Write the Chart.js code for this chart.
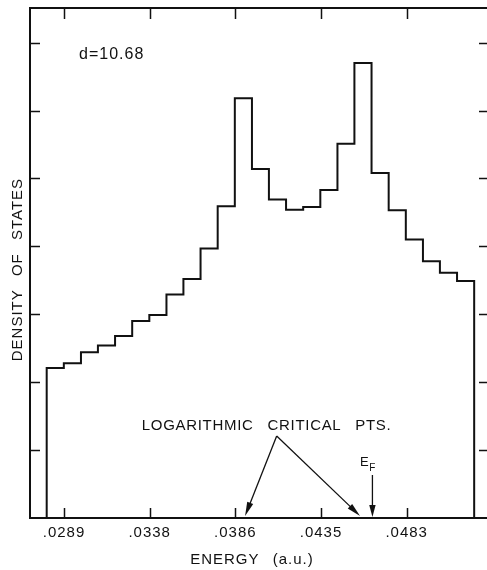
<!DOCTYPE html>
<html>
<head>
<meta charset="utf-8">
<script src="https://cdn.jsdelivr.net/npm/chart.js@4"></script>
<style>
  html, body { margin: 0; padding: 0; background: #fff; }
</style>
</head>
<body>
<canvas id="dos" width="487" height="570"></canvas>
<script>
// histogram bin edges along the energy axis (a.u.)
const binEdges = [0.02792, 0.02889, 0.02986, 0.03082, 0.03179, 0.03276, 0.03373, 0.03470, 0.03566,
  0.03663, 0.03760, 0.03857, 0.03954, 0.04050, 0.04147, 0.04244, 0.04341, 0.04438, 0.04534,
  0.04631, 0.04728, 0.04825, 0.04922, 0.05018, 0.05115, 0.05212]
// density of states in each bin (units = one y tick)
const dosValues = [2.21, 2.28, 2.44, 2.54, 2.68, 2.90, 2.99, 3.29, 3.52, 3.97, 4.59, 6.18, 5.14,
  4.69, 4.54, 4.58, 4.83, 5.51, 6.70, 5.08, 4.53, 4.10, 3.78, 3.61, 3.49]
const xTickValues = [0.0289, 0.03375, 0.0386, 0.04345, 0.0483]
const xTickLabels = ['.0289', '.0338', '.0386', '.0435', '.0483']
const yTickValues = [1, 2, 3, 4, 5, 6, 7]
const criticalPts = [0.03915, 0.04566]
const fermiEnergy = 0.04636
const ink = '#111111'
const fontFamily = "'Liberation Sans', Arial, sans-serif"

Chart.defaults.font.family = fontFamily

const steps = [{ x: binEdges[0], y: 0 }]
dosValues.forEach((v, i) => steps.push({ x: binEdges[i], y: v }))
steps.push({ x: binEdges[dosValues.length], y: 0 })

function arrow(ctx, x0, y0, x1, y1, len, half) {
  const ang = Math.atan2(y1 - y0, x1 - x0)
  ctx.beginPath()
  ctx.moveTo(x0, y0)
  ctx.lineTo(x1 - Math.cos(ang) * len * 0.6, y1 - Math.sin(ang) * len * 0.6)
  ctx.stroke()
  ctx.beginPath()
  ctx.moveTo(x1, y1)
  ctx.lineTo(x1 - Math.cos(ang) * len - Math.sin(ang) * half, y1 - Math.sin(ang) * len + Math.cos(ang) * half)
  ctx.lineTo(x1 - Math.cos(ang) * len + Math.sin(ang) * half, y1 - Math.sin(ang) * len - Math.cos(ang) * half)
  ctx.closePath()
  ctx.fill()
}

const spacing = {
  id: 'spacing',
  beforeDraw(chart) {
    chart.ctx.letterSpacing = '1px'
    chart.ctx.wordSpacing = '8px'
  }
}

const frame = {
  id: 'frame',
  afterDraw(chart) {
    const { ctx, chartArea: a, scales: { x, y } } = chart
    ctx.save()
    ctx.strokeStyle = ink
    ctx.fillStyle = ink
    ctx.lineWidth = 2
    ctx.beginPath()
    ctx.moveTo(a.right, a.top)
    ctx.lineTo(a.left, a.top)
    ctx.lineTo(a.left, a.bottom)
    ctx.lineTo(a.right, a.bottom)
    ctx.stroke()

    // inward tick marks on all sides
    ctx.lineWidth = 1.5
    ctx.beginPath()
    xTickValues.forEach(v => {
      const px = Math.round(x.getPixelForValue(v)) + 0.5
      ctx.moveTo(px, a.bottom); ctx.lineTo(px, a.bottom - 10)
      ctx.moveTo(px, a.top); ctx.lineTo(px, a.top + 11)
    })
    yTickValues.forEach(v => {
      const py = Math.round(y.getPixelForValue(v)) + 0.5
      ctx.moveTo(a.left, py); ctx.lineTo(a.left + 10, py)
      ctx.moveTo(a.right, py); ctx.lineTo(a.right - 8, py)
    })
    ctx.stroke()

    // annotations
    ctx.textBaseline = 'middle'
    ctx.textAlign = 'left'
    ctx.letterSpacing = '1px'
    ctx.wordSpacing = '0px'
    ctx.font = '16px ' + fontFamily
    ctx.fillText('d=10.68', x.getPixelForValue(0.02975), y.getPixelForValue(6.82))

    ctx.font = '15px ' + fontFamily
    ctx.letterSpacing = '0.7px'
    ctx.wordSpacing = '9px'
    ctx.fillText('LOGARITHMIC CRITICAL PTS.', x.getPixelForValue(0.0333), y.getPixelForValue(1.355))

    ctx.lineWidth = 1.3
    const ax = x.getPixelForValue(0.04094), ay = y.getPixelForValue(1.208)
    criticalPts.forEach(e => arrow(ctx, ax, ay, x.getPixelForValue(e), y.getPixelForValue(0.03), 14, 3.2))

    const fx = x.getPixelForValue(fermiEnergy)
    arrow(ctx, fx, y.getPixelForValue(0.633), fx, y.getPixelForValue(0.015), 12, 3.2)
    ctx.letterSpacing = '0px'
    ctx.wordSpacing = '0px'
    ctx.font = '13px ' + fontFamily
    ctx.fillText('E', x.getPixelForValue(0.04566), y.getPixelForValue(0.82))
    ctx.font = '10px ' + fontFamily
    ctx.fillText('F', x.getPixelForValue(0.04618), y.getPixelForValue(0.73))
    ctx.restore()
  }
}

new Chart(document.getElementById('dos'), {
  type: 'line',
  data: {
    datasets: [{
      data: steps,
      stepped: 'before',
      borderColor: ink,
      borderWidth: 2,
      pointRadius: 0,
      fill: false
    }]
  },
  options: {
    responsive: false,
    animation: false,
    devicePixelRatio: 1,
    layout: { padding: { top: 8, left: 0, right: 0, bottom: 0 } },
    plugins: { legend: { display: false }, tooltip: { enabled: false } },
    scales: {
      x: {
        type: 'linear',
        min: 0.026975,
        max: 0.052846,
        afterBuildTicks: s => { s.ticks = xTickValues.map(v => ({ value: v })) },
        afterFit: s => { s.height = 52 },
        grid: { display: false, drawTicks: false },
        border: { display: false },
        ticks: {
          autoSkip: false,
          maxRotation: 0,
          padding: 6,
          color: ink,
          font: { size: 15 },
          callback: (v, i) => xTickLabels[i]
        },
        title: {
          display: true,
          // trailing space nudges the centred title a little left, as in the original
          text: 'ENERGY (a.u.) ',
          color: ink,
          font: { size: 15 },
          padding: { top: 0, bottom: 1 }
        }
      },
      y: {
        min: 0,
        max: 7.51,
        afterFit: s => { s.width = 30 },
        grid: { display: false, drawTicks: false },
        border: { display: false },
        ticks: { display: false },
        title: {
          display: true,
          text: 'DENSITY OF STATES ',
          color: ink,
          font: { size: 15 },
          padding: { top: 9, bottom: 0 }
        }
      }
    }
  },
  plugins: [spacing, frame]
})
</script>
</body>
</html>
